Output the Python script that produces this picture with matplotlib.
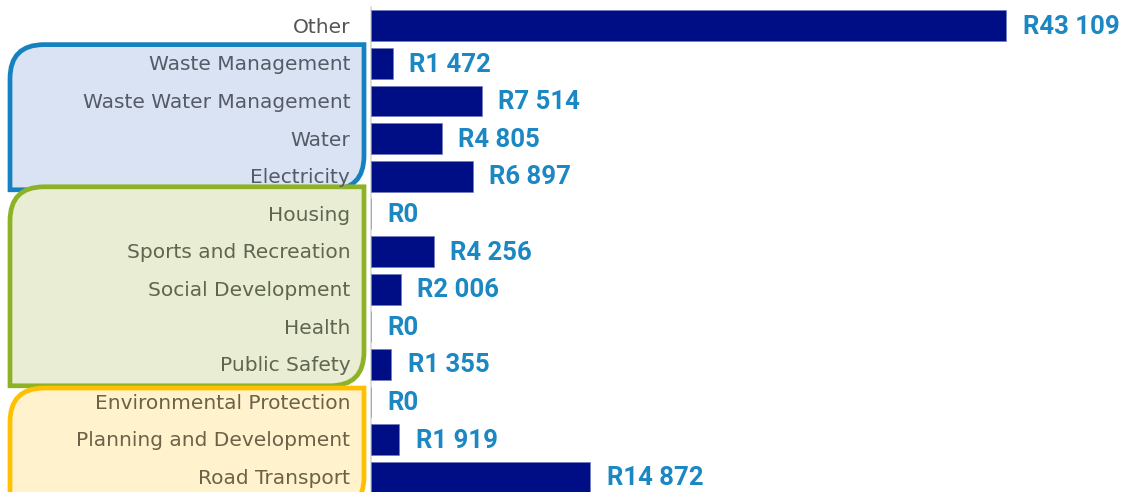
import matplotlib.pyplot as plt
from matplotlib.path import Path
from matplotlib.patches import PathPatch
from matplotlib.transforms import IdentityTransform

# Data (top to bottom)
categories = ["Other", "Waste Management", "Waste Water Management", "Water", "Electricity",
              "Housing", "Sports and Recreation", "Social Development", "Health", "Public Safety",
              "Environmental Protection", "Planning and Development", "Road Transport"]
values = [43109, 1472, 7514, 4805, 6897, 0, 4256, 2006, 0, 1355, 0, 1919, 14872]
value_labels = ["R43 109", "R1 472", "R7 514", "R4 805", "R6 897", "R0", "R4 256",
                "R2 006", "R0", "R1 355", "R0", "R1 919", "R14 872"]

# groups: (first row edge, last row edge, border, fill)
groups = [(0.5, 4.36, "#1581C1", "#DAE3F3"),
          (4.28, 9.57, "#8DB225", "#E8EDD3"),
          (9.63, 12.9, "#FFC000", "#FFF2CC")]
label_colors = ["#555555"] + ["#545A66"] * 4 + ["#5F6650"] * 5 + ["#6B6247"] * 3

W, H = 1129, 492
fig = plt.figure(figsize=(W / 100, H / 100), dpi=100)
ax = fig.add_axes([371 / W, -4 / H, 758 / W, 489 / H])
ypos = list(range(len(categories)))
ax.barh(ypos, values, height=0.82, color="#000E85", edgecolor="#6F78C0", linewidth=0.4, zorder=3)
ax.set_xlim(0, 51460)
ax.set_ylim(len(categories) - 0.5, -0.5)
ax.set_xticks([])
ax.set_yticks([])
for s in ["top", "right", "bottom"]:
    ax.spines[s].set_visible(False)
ax.spines["left"].set_color("#D9D9D9")
ax.spines["left"].set_linewidth(1.2)

for y, v, lab in zip(ypos, values, value_labels):
    ax.annotate(lab, (v, y), xytext=(12, -0.8), textcoords="offset points",
                ha="left", va="center", fontsize=18.5, fontweight="bold",
                color="#1B87C3", family="Roboto")

# category labels in the left margin
for y, cat, c in zip(ypos, categories, label_colors):
    ax.annotate(cat, (0, y), xycoords=("axes fraction", "data"), xytext=(-15, -1),
                textcoords="offset points", ha="right", va="center",
                fontsize=14.5, color=c, family="DejaVu Sans", zorder=5)

# rounded group boxes behind the labels
fig.canvas.draw()
x0, x1, r = 10, 364, 34
for top, bot, edge, fill in groups:
    yt = ax.transData.transform((0, top))[1]
    yb = ax.transData.transform((0, bot))[1]
    verts = [(x0, yb), (x0, yt - r), (x0, yt), (x0 + r, yt), (x1, yt),
             (x1, yb + r), (x1, yb), (x1 - r, yb), (x0, yb)]
    codes = [Path.MOVETO, Path.LINETO, Path.CURVE3, Path.CURVE3, Path.LINETO,
             Path.LINETO, Path.CURVE3, Path.CURVE3, Path.CLOSEPOLY]
    fig.patches.append(PathPatch(Path(verts, codes), transform=IdentityTransform(),
                                 facecolor=fill, edgecolor=edge, linewidth=3.4, zorder=-1))

fig.savefig("out.png", dpi=100)
